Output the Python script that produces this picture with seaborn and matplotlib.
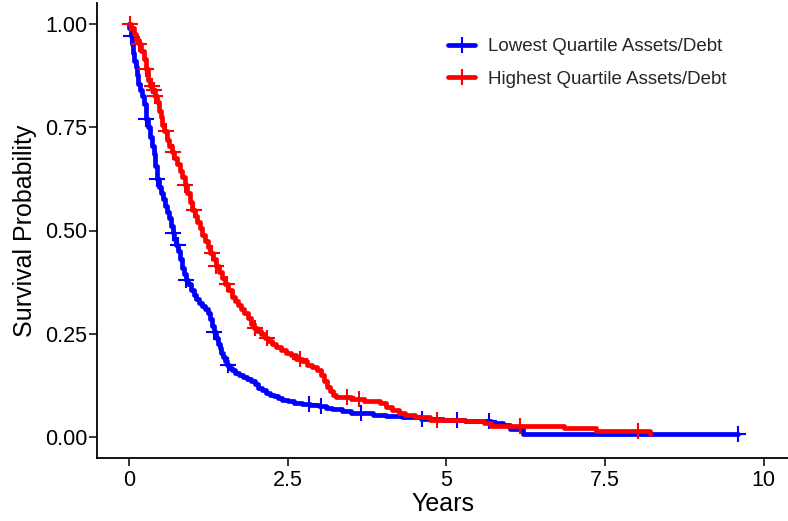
import numpy as np
import pandas as pd
import matplotlib
matplotlib.use("Agg")
import matplotlib.pyplot as plt
from matplotlib.lines import Line2D
import seaborn as sns

# ---- data ----
low_label = "Lowest Quartile Assets/Debt"
high_label = "Highest Quartile Assets/Debt"

# Kaplan-Meier step points (time in years, survival probability)
low_steps = [
    (0, 1.0), (0.01, 0.99), (0.03, 0.97), (0.05, 0.95), (0.07, 0.93), (0.09, 0.91),
    (0.11, 0.895), (0.13, 0.875), (0.15, 0.855), (0.18, 0.84), (0.21, 0.825), (0.24, 0.805),
    (0.27, 0.77), (0.30, 0.75), (0.33, 0.725), (0.36, 0.705), (0.39, 0.685), (0.42, 0.655),
    (0.45, 0.625), (0.48, 0.605), (0.51, 0.59), (0.54, 0.575), (0.57, 0.56), (0.60, 0.545),
    (0.63, 0.53), (0.66, 0.51), (0.69, 0.495), (0.72, 0.48), (0.75, 0.465), (0.78, 0.45),
    (0.81, 0.43), (0.84, 0.41), (0.87, 0.395), (0.90, 0.38), (0.94, 0.37), (0.98, 0.355),
    (1.02, 0.345), (1.06, 0.335), (1.10, 0.325), (1.15, 0.318), (1.20, 0.31), (1.24, 0.30),
    (1.28, 0.285), (1.31, 0.27), (1.34, 0.255), (1.37, 0.24), (1.40, 0.225), (1.43, 0.215),
    (1.46, 0.205), (1.49, 0.195), (1.52, 0.185), (1.55, 0.175), (1.58, 0.168), (1.63, 0.162),
    (1.68, 0.155), (1.74, 0.15), (1.80, 0.145), (1.86, 0.14), (1.92, 0.135), (1.98, 0.128),
    (2.04, 0.12), (2.10, 0.114), (2.16, 0.108), (2.22, 0.103), (2.28, 0.099), (2.35, 0.094),
    (2.42, 0.09), (2.50, 0.087), (2.60, 0.083), (2.72, 0.081), (2.85, 0.079), (3.00, 0.076),
    (3.10, 0.072), (3.20, 0.068), (3.35, 0.063), (3.50, 0.060), (3.65, 0.058), (3.85, 0.054),
    (4.05, 0.052), (4.30, 0.050), (4.60, 0.045), (4.95, 0.042), (5.30, 0.040), (5.70, 0.035),
    (5.90, 0.030), (6.00, 0.020), (6.20, 0.007), (9.60, 0.007),
]
low_censor = [0.03, 0.27, 0.45, 0.69, 0.77, 0.90, 1.34, 1.57, 2.84, 3.02, 3.65, 4.62, 5.17,
              5.68, 9.60]

high_steps = [
    (0, 1.0), (0.04, 0.99), (0.08, 0.975), (0.12, 0.96), (0.16, 0.95), (0.20, 0.935),
    (0.24, 0.915), (0.27, 0.89), (0.30, 0.865), (0.33, 0.85), (0.37, 0.84), (0.41, 0.825),
    (0.44, 0.81), (0.47, 0.79), (0.50, 0.775), (0.53, 0.755), (0.56, 0.74), (0.60, 0.72),
    (0.64, 0.705), (0.68, 0.69), (0.72, 0.675), (0.76, 0.66), (0.80, 0.645), (0.84, 0.63),
    (0.88, 0.61), (0.92, 0.59), (0.96, 0.57), (1.00, 0.55), (1.04, 0.535), (1.08, 0.52),
    (1.12, 0.505), (1.16, 0.49), (1.20, 0.475), (1.24, 0.46), (1.28, 0.445), (1.32, 0.43),
    (1.37, 0.415), (1.42, 0.40), (1.47, 0.385), (1.52, 0.37), (1.57, 0.355), (1.62, 0.34),
    (1.67, 0.33), (1.72, 0.32), (1.77, 0.31), (1.82, 0.30), (1.87, 0.288), (1.92, 0.275),
    (1.97, 0.265), (2.02, 0.258), (2.08, 0.25), (2.14, 0.24), (2.20, 0.232), (2.26, 0.225),
    (2.32, 0.218), (2.40, 0.212), (2.48, 0.205), (2.56, 0.198), (2.64, 0.19), (2.72, 0.184),
    (2.80, 0.176), (2.88, 0.17), (2.96, 0.163), (3.02, 0.15), (3.07, 0.135), (3.12, 0.122),
    (3.17, 0.112), (3.22, 0.103), (3.27, 0.097), (3.50, 0.092), (3.70, 0.088), (3.95, 0.082),
    (4.05, 0.074), (4.15, 0.066), (4.25, 0.060), (4.35, 0.054), (4.50, 0.048), (4.75, 0.042),
    (5.30, 0.040), (5.60, 0.035), (5.70, 0.028), (6.85, 0.022), (7.35, 0.015), (8.20, 0.009),
]
high_censor = [0.02, 0.16, 0.27, 0.36, 0.39, 0.42, 0.59, 0.70, 0.88, 1.02, 1.31, 1.37, 1.55,
               1.98, 2.18, 2.70, 3.44, 3.62, 4.85, 6.16, 8.02]

x_ticks = [0, 2.5, 5, 7.5, 10]
x_tick_labels = ["0", "2.5", "5", "7.5", "10"]
y_ticks = [0, 0.25, 0.5, 0.75, 1.0]
y_tick_labels = ["0.00", "0.25", "0.50", "0.75", "1.00"]

colors = {low_label: "#0000FF", high_label: "#FF0000"}


def steps_df(steps, label):
    t, s = zip(*steps)
    return pd.DataFrame({"time": t, "surv": s, "group": label})


def censor_df(steps, times, label):
    t, s = zip(*steps)
    idx = np.searchsorted(np.asarray(t), np.asarray(times), side="right") - 1
    return pd.DataFrame({"time": times, "surv": np.asarray(s)[idx], "group": label})


curves = pd.concat([steps_df(low_steps, low_label), steps_df(high_steps, high_label)])
cens = pd.concat([censor_df(low_steps, low_censor, low_label),
                  censor_df(high_steps, high_censor, high_label)])

sns.set_theme(style="ticks")
plt.rcParams["font.family"] = ["Liberation Sans", "DejaVu Sans"]

fig = plt.figure(figsize=(7.88, 5.21), dpi=100)
ax = fig.add_axes([97 / 788, 63 / 521, 1 - 97 / 788, 455 / 521])

LW = 3.4
for g in [low_label, high_label]:
    d = curves[curves.group == g]
    sns.lineplot(data=d, x="time", y="surv", ax=ax, color=colors[g], lw=LW,
                 drawstyle="steps-post", estimator=None, sort=False, legend=False)
    c = cens[cens.group == g]
    ax.plot(c["time"], c["surv"], linestyle="none", marker="+", markersize=11,
            markeredgewidth=1.5, color=colors[g])

ax.set_xlim(-0.5, 10.38)
ax.set_ylim(-0.05, 1.05)
ax.set_xticks(x_ticks)
ax.set_xticklabels(x_tick_labels)
ax.set_yticks(y_ticks)
ax.set_yticklabels(y_tick_labels)
ax.tick_params(axis="both", labelsize=15.5, colors="black", length=5.5, width=1.1,
               labelcolor="black")
ax.tick_params(axis="y", pad=1.5)
ax.tick_params(axis="x", pad=3)
ax.set_xlabel("Years", fontsize=18, color="black", labelpad=1)
ax.set_ylabel("Survival Probability", fontsize=18, color="black", labelpad=6)
sns.despine(ax=ax)
for s in ["left", "bottom"]:
    ax.spines[s].set_linewidth(1.3)
    ax.spines[s].set_color("black")

handles = [Line2D([0], [0], color=colors[g], lw=LW, marker="+", markersize=11,
                  markeredgewidth=1.5) for g in [low_label, high_label]]
fig.legend(handles, [low_label, high_label], loc="upper left",
           bbox_to_anchor=(448 / 788, 1 - 38 / 521), frameon=False, fontsize=13.5,
           labelspacing=0.84, handlelength=1.45, handletextpad=0.7,
           borderpad=0, borderaxespad=0)

fig.savefig("out.png", dpi=100)
